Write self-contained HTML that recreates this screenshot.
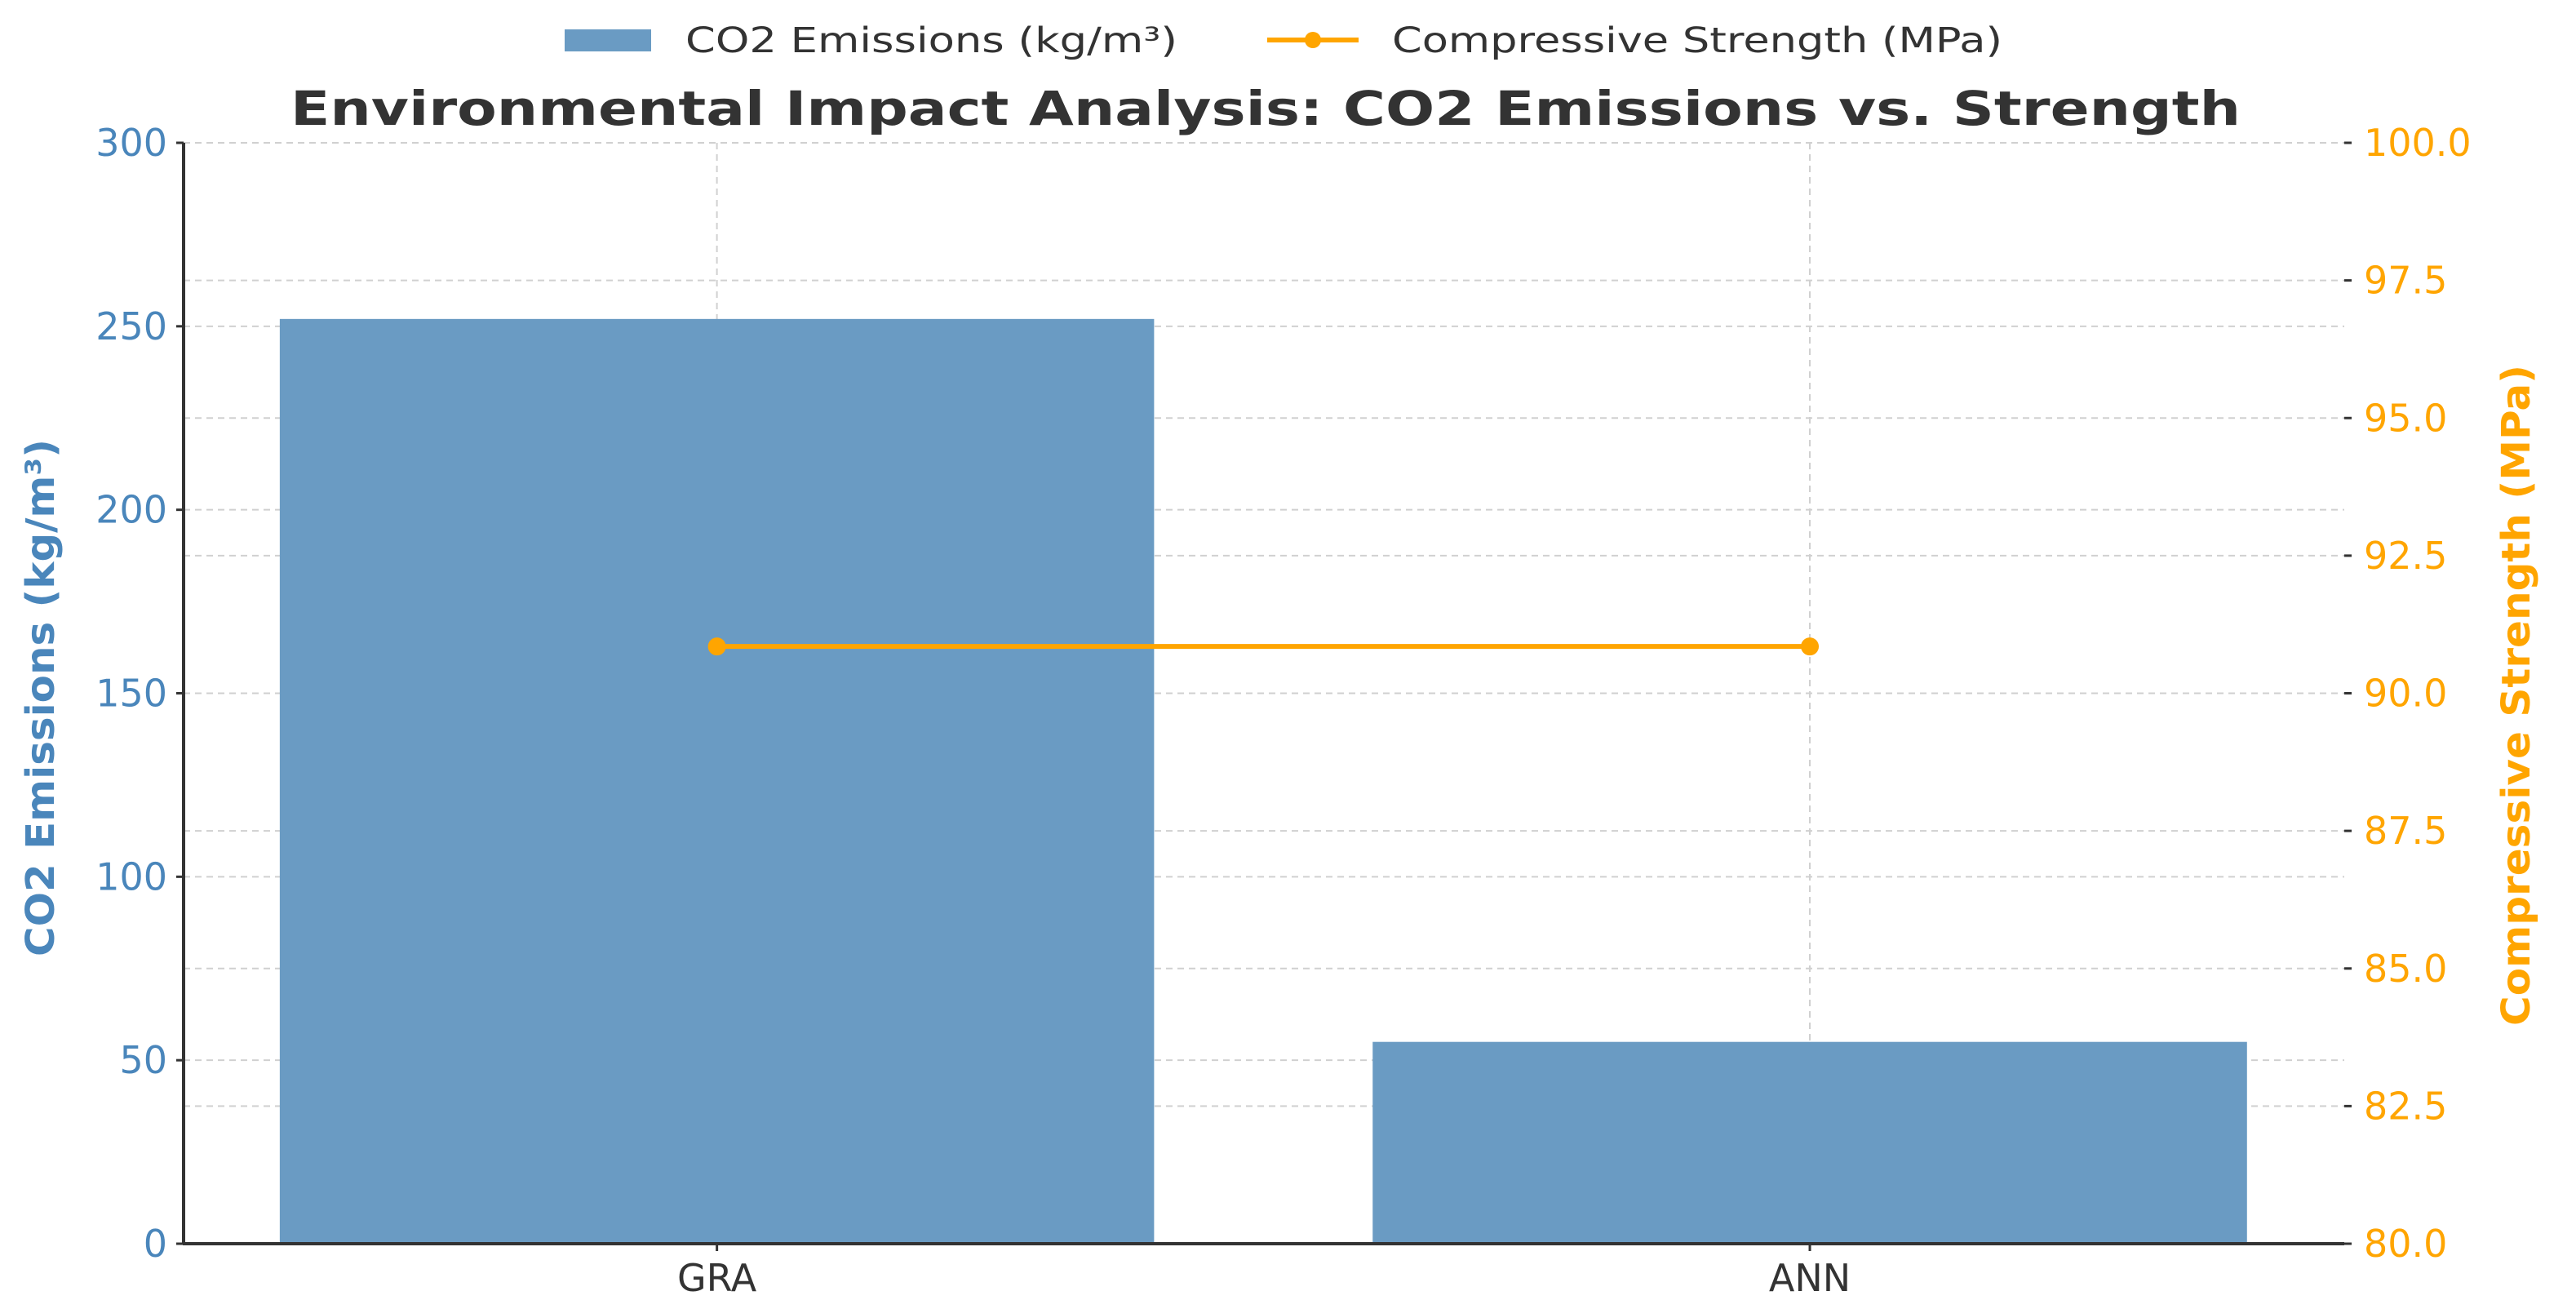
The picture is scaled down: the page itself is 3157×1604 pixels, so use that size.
<!DOCTYPE html>
<html><head><meta charset="utf-8"><style>
html,body{margin:0;padding:0;background:#fff;}
svg{display:block;font-family:"DejaVu Sans","Liberation Sans",sans-serif;}
</style></head><body>
<svg id="chart" width="3157" height="1604" viewBox="0 0 3157 1604" xmlns="http://www.w3.org/2000/svg">
<g id="grid"></g>
<g id="bars"></g>
<g id="line"></g>
<g id="axes"></g>
<g>
  <rect x="692" y="36" width="106" height="27" fill="#6a9bc3"/>
  <text x="840" y="64" font-size="43" fill="#333" textLength="603" lengthAdjust="spacingAndGlyphs">CO2 Emissions (kg/m³)</text>
  <line x1="1553" y1="49" x2="1665" y2="49" stroke="#ffa500" stroke-width="6"/>
  <circle cx="1609" cy="49" r="10" fill="#ffa500"/>
  <text x="1706" y="64" font-size="43" fill="#333" textLength="748" lengthAdjust="spacingAndGlyphs">Compressive Strength (MPa)</text>
</g>
<text x="356" y="153" font-size="58" font-weight="bold" fill="#333" textLength="2390" lengthAdjust="spacingAndGlyphs">Environmental Impact Analysis: CO2 Emissions vs. Strength</text>
<text transform="translate(66,855) rotate(-90)" text-anchor="middle" font-size="48" font-weight="bold" fill="#4a86bb" textLength="634" lengthAdjust="spacingAndGlyphs">CO2 Emissions (kg/m³)</text>
<text transform="translate(3100,852) rotate(-90)" text-anchor="middle" font-size="48" font-weight="bold" fill="#ffa500" textLength="810" lengthAdjust="spacingAndGlyphs">Compressive Strength (MPa)</text>
</svg>
<script>
const categories = ["GRA", "ANN"];
const co2Values = [252, 55];
const strengthValues = [90.85, 90.85];
const leftTicks = [0, 50, 100, 150, 200, 250, 300];
const rightTicks = [80.0, 82.5, 85.0, 87.5, 90.0, 92.5, 95.0, 97.5, 100.0];

const NS = "http://www.w3.org/2000/svg";
const L = 225, R = 2873, T = 175, B = 1524;
const xMin = -0.488, xMax = 1.489;
const xS = v => L + (v - xMin) / (xMax - xMin) * (R - L);
const yL = v => B - (v - 0) / 300 * (B - T);
const yR = v => B - (v - 80) / 20 * (B - T);
function mk(tag, attrs, parent) {
  const e = document.createElementNS(NS, tag);
  for (const k in attrs) e.setAttribute(k, attrs[k]);
  parent.appendChild(e);
  return e;
}
const grid = document.getElementById('grid');
const bars = document.getElementById('bars');
const lineG = document.getElementById('line');
const axes = document.getElementById('axes');

leftTicks.forEach(t => {
  const y = yL(t);
  const g = mk('line', {x1: L, x2: R, y1: y, y2: y, stroke: '#d0d0d0', 'stroke-width': 2, 'stroke-dasharray': '8,6'}, grid);
  
  
  const tk = mk('line', {x1: L - 9, x2: L, y1: y, y2: y, stroke: '#333', 'stroke-width': 3}, axes);
  
  
  const tx = mk('text', {x: 205, y: y + 16, 'text-anchor': 'end', 'font-size': 46, fill: '#4a86bb'}, axes);
  tx.textContent = String(t);
  
  
});
rightTicks.forEach(t => {
  const y = yR(t);
  const g = mk('line', {x1: L, x2: R, y1: y, y2: y, stroke: '#d0d0d0', 'stroke-width': 2, 'stroke-dasharray': '8,6'}, grid);
  
  
  const tk = mk('line', {x1: R, x2: R + 9, y1: y, y2: y, stroke: '#333', 'stroke-width': 3}, axes);
  
  
  const tx = mk('text', {x: 2897, y: y + 16, 'font-size': 46, fill: '#ffa500'}, axes);
  tx.textContent = t.toFixed(1);
  
  
});
categories.forEach((c, i) => {
  const x = xS(i);
  const g = mk('line', {x1: x, x2: x, y1: T, y2: B, stroke: '#d0d0d0', 'stroke-width': 2, 'stroke-dasharray': '8,6'}, grid);
  
  
  const b = mk('rect', {x: xS(i - 0.4), y: yL(co2Values[i]), width: xS(i + 0.4) - xS(i - 0.4), height: B - yL(co2Values[i]), fill: '#6a9bc3'}, bars);
  
  
  const tk = mk('line', {x1: x, x2: x, y1: B, y2: B + 9, stroke: '#333', 'stroke-width': 3}, axes);
  
  
  const tx = mk('text', {x: x, y: 1582, 'text-anchor': 'middle', 'font-size': 46, fill: '#333'}, axes);
  tx.textContent = c;
  
  
});
const pts = strengthValues.map((v, i) => xS(i) + ',' + yR(v)).join(' ');
const pl = mk('polyline', {points: pts, fill: 'none', stroke: '#ffa500', 'stroke-width': 6}, lineG);


strengthValues.forEach((v, i) => {
  const c = mk('circle', {cx: xS(i), cy: yR(v), r: 11, fill: '#ffa500'}, lineG);
  
  
});
const la = mk('line', {x1: L, x2: L, y1: T, y2: B + 1, stroke: '#333', 'stroke-width': 4}, axes);


const ba = mk('line', {x1: L - 1, x2: R, y1: B, y2: B, stroke: '#333', 'stroke-width': 4}, axes);


</script>
</body></html>
